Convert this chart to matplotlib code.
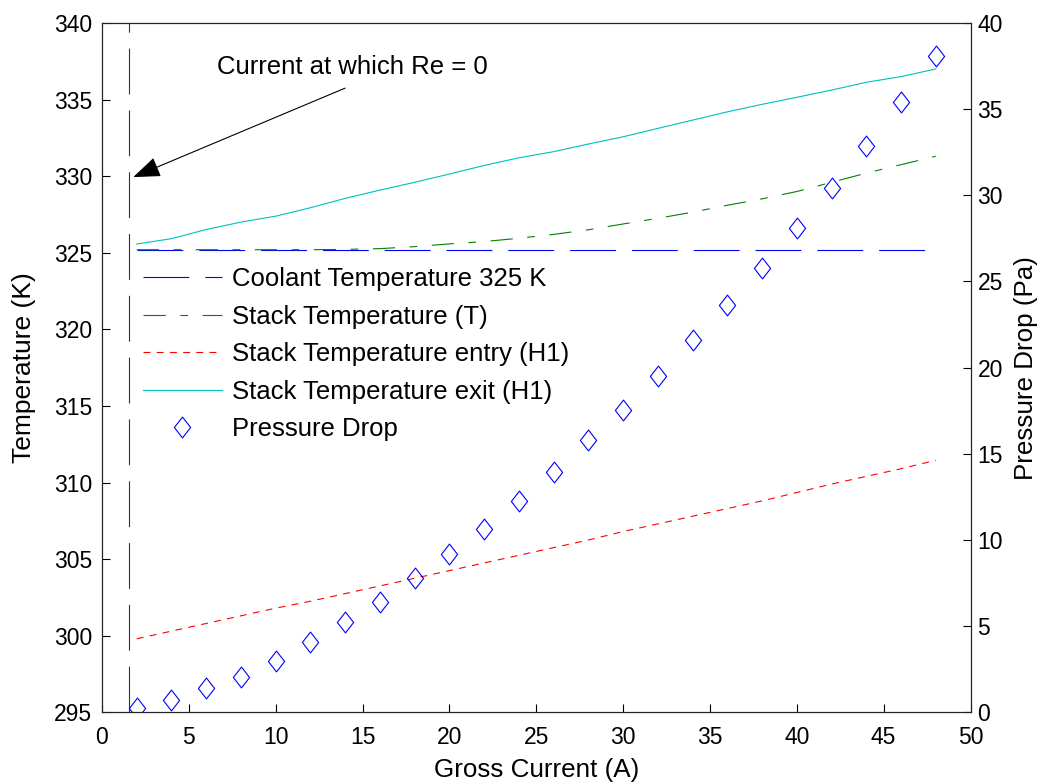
import matplotlib
matplotlib.use("Agg")
import matplotlib.pyplot as plt
from matplotlib.path import Path
import numpy as np

plt.rcParams['font.family'] = ['Liberation Sans', 'DejaVu Sans']
plt.rcParams['lines.scale_dashes'] = False

# ---------------- data ----------------
current = [2, 4, 6, 8, 10, 12, 14, 16, 18, 20, 22, 24,
           26, 28, 30, 32, 34, 36, 38, 40, 42, 44, 46, 48]
coolant_temp = [325.2] * len(current)
stack_temp_T = [325.2, 325.2, 325.2, 325.2, 325.2, 325.2, 325.22, 325.27,
                325.4, 325.58, 325.73, 325.95, 326.2, 326.5, 326.88, 327.25,
                327.65, 328.1, 328.52, 329.0, 329.6, 330.2, 330.75, 331.3]
stack_temp_entry = [299.8, 300.3, 300.8, 301.3, 301.8, 302.25, 302.75, 303.25,
                    303.75, 304.25, 304.75, 305.25, 305.75, 306.25, 306.8, 307.3,
                    307.8, 308.3, 308.8, 309.35, 309.9, 310.4, 310.9, 311.45]
stack_temp_exit = [325.57, 325.92, 326.52, 327.0, 327.39, 327.94, 328.55, 329.09,
                   329.6, 330.14, 330.7, 331.2, 331.6, 332.1, 332.57, 333.12,
                   333.66, 334.2, 334.69, 335.15, 335.62, 336.13, 336.5, 337.0]
pressure_drop = [0.23, 0.71, 1.39, 2.07, 3.0, 4.06, 5.22, 6.39, 7.78, 9.17,
                 10.66, 12.28, 13.93, 15.79, 17.53, 19.5, 21.6, 23.65, 25.78,
                 28.1, 30.42, 32.86, 35.41, 38.08]
re_zero_current = 1.54

labels = ["Coolant Temperature 325 K", "Stack Temperature (T)",
          "Stack Temperature entry (H1)", "Stack Temperature exit (H1)",
          "Pressure Drop"]
annotation_text = "Current at which Re = 0"

# ---------------- figure ----------------
fig = plt.figure(figsize=(10.39, 7.82), dpi=100)
ax1 = fig.add_axes([102 / 1039, 1 - 712.3 / 782, 868.5 / 1039, 689.3 / 782])
ax2 = ax1.twinx()

long_dash = (0, (33, 11.5))
h1, = ax1.plot(current, coolant_temp, color='#0000FF', lw=0.8, linestyle=long_dash)
h2, = ax1.plot(current, stack_temp_T, color='#008000', lw=0.8,
               linestyle=(0, (16, 10.5, 5.5, 10.5)))
h3, = ax1.plot(current, stack_temp_entry, color='#FF0000', lw=0.8,
               linestyle=(0, (5, 4.5)))
h4, = ax1.plot(current, stack_temp_exit, color='#00BFBF', lw=0.8)
ax1.axvline(re_zero_current, color='#333333', lw=0.8, linestyle=long_dash)

diamond = Path([(0, 1), (0.78, 0), (0, -1), (-0.78, 0), (0, 1)],
               [Path.MOVETO, Path.LINETO, Path.LINETO, Path.LINETO, Path.CLOSEPOLY])
h5, = ax2.plot(current, pressure_drop, linestyle='none', marker=diamond,
               markersize=15, markerfacecolor='none', markeredgecolor='#0000FF',
               markeredgewidth=0.8)

ax1.set_xlim(0, 50)
ax1.set_ylim(295, 340)
ax2.set_ylim(0, 40)
ax1.set_xticks(np.arange(0, 51, 5))
ax1.set_yticks(np.arange(295, 341, 5))
ax2.set_yticks(np.arange(0, 41, 5))

for ax in (ax1, ax2):
    ax.tick_params(direction='in', length=6, width=0.8, labelsize=16.5, colors='black')
    for s in ax.spines.values():
        s.set_linewidth(0.8)
        s.set_color('#222222')
ax1.tick_params(axis='y', pad=7)
ax1.tick_params(axis='x', pad=10)
ax2.tick_params(axis='y', pad=5)

ax1.set_xlabel("Gross Current (A)", fontsize=18.7, labelpad=6)
ax1.set_ylabel("Temperature (K)", fontsize=19, labelpad=13)
ax2.set_ylabel("Pressure Drop (Pa)", fontsize=18.7, labelpad=8)

# annotation
ax1.annotate("", xy=(1.8, 329.94), xytext=(14.0, 335.75),
             arrowprops=dict(arrowstyle='-|>,head_length=0.85,head_width=0.32',
                             color='black', lw=0.8, mutation_scale=20,
                             shrinkA=0, shrinkB=0))
ax1.text(6.6, 337.15, annotation_text, fontsize=18.5, ha='left', va='center')

leg = ax2.legend([h1, h2, h3, h4, h5], labels, loc='upper left',
                 bbox_to_anchor=(143.3 / 1039, (782 - 267) / 782),
                 bbox_transform=fig.transFigure, frameon=False, fontsize=18.5,
                 handlelength=3.05, handletextpad=0.4, labelspacing=0.53,
                 borderpad=0, borderaxespad=0, numpoints=1)

fig.savefig("out.png", dpi=100)
